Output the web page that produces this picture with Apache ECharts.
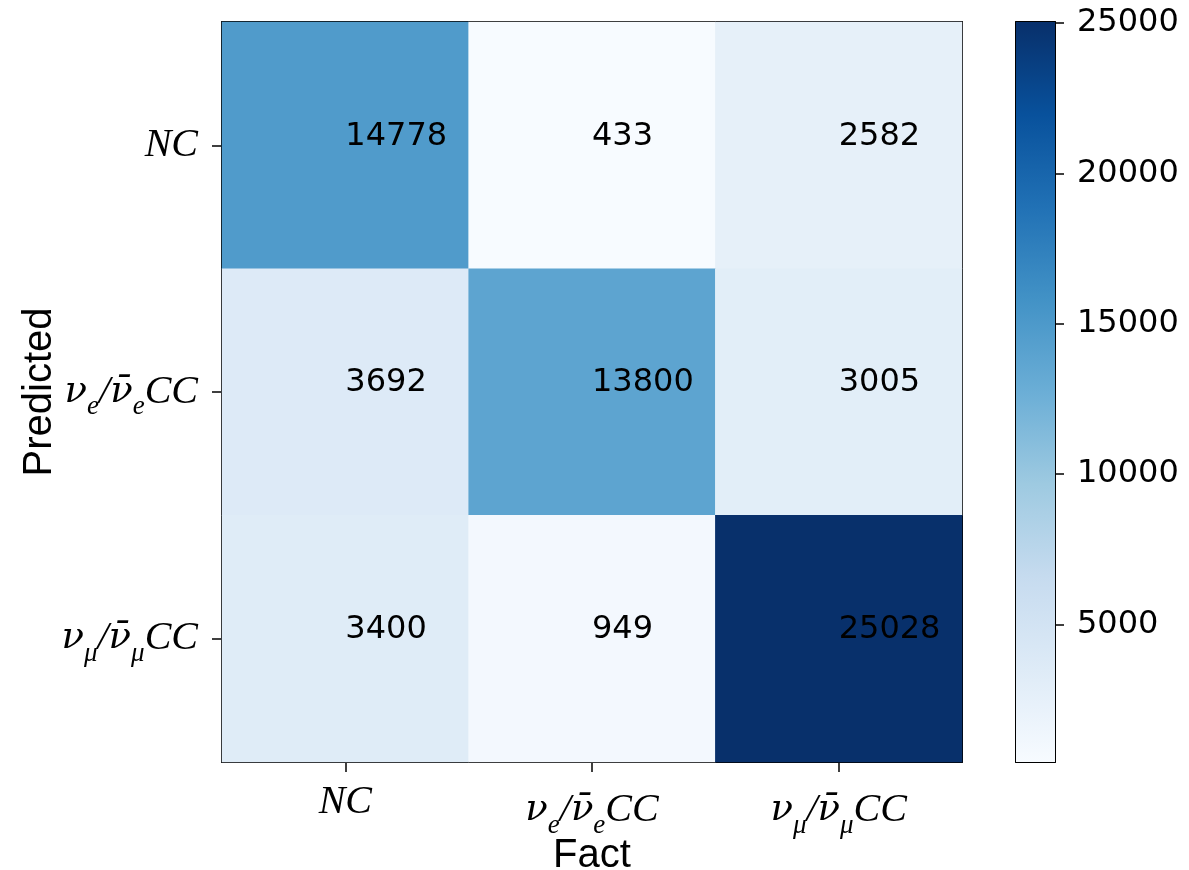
<!DOCTYPE html>
<html>
<head>
<meta charset="utf-8">
<script src="https://cdn.jsdelivr.net/npm/echarts@6/dist/echarts.min.js"></script>
<style>
html,body{margin:0;padding:0;background:#fff;}
#c{width:1189px;height:870px;}
</style>
</head>
<body>
<div id="c"></div>
<script>
// Categories (Fact = columns, Predicted = rows)
const categories = ['NC', 'nue', 'numu'];
const tickLabels = [
  '{i|NC}',
  '{n|ν}{s|e}{i|/}{n|ν̄}{s|e}{i|CC}',
  '{n|ν}{s|μ}{i|/}{n|ν̄}{s|μ}{i|CC}'
];
// Rows: predicted class; values per fact column
const predNC   = [14778, 433, 2582];
const predNue  = [3692, 13800, 3005];
const predNumu = [3400, 949, 25028];
const matrixRows = [predNC, predNue, predNumu];
const colorbarTicks = [5000, 10000, 15000, 20000, 25000];
const blues = ['#f7fbff','#deebf7','#c6dbef','#9ecae1','#6baed6','#4292c6','#2171b5','#08519c','#08306b'];

const allVals = matrixRows.flat();
const vmin = Math.min(...allVals);
const vmax = Math.max(...allVals);

const heatData = [];
matrixRows.forEach((row, r) => row.forEach((v, c) => heatData.push([c, r, v])));

const rich = {
  i: {fontFamily: 'Liberation Serif', fontStyle: 'italic', fontSize: 40, color: '#000'},
  n: {fontFamily: 'DejaVu Serif', fontStyle: 'italic', fontSize: 37, color: '#000'},
  s: {fontFamily: 'Liberation Serif', fontStyle: 'italic', fontSize: 27, color: '#000', padding: [30, 0, 0, 0]}
};
const labelFmt = (v) => tickLabels[categories.indexOf(v)];
const lineStyle = {color: '#000', width: 2};

const chart = echarts.init(document.getElementById('c'), null, {renderer: 'canvas'});
chart.setOption({
  animation: false,
  backgroundColor: '#fff',
  grid: [
    {left: 222, top: 22, width: 740, height: 740, outerBoundsMode: 'none', containLabel: false},
    {left: 1016, top: 22, width: 39, height: 740, outerBoundsMode: 'none', containLabel: false}
  ],
  xAxis: [
    {type: 'category', gridIndex: 0, data: categories, position: 'bottom',
     axisLine: {show: true, lineStyle}, axisTick: {show: true, alignWithLabel: true, length: 10, lineStyle: {color: '#000', width: 1.5}},
     axisLabel: {formatter: labelFmt, rich, margin: 20},
     splitLine: {show: false},
     name: 'Fact', nameLocation: 'middle', nameGap: 74, nameMoveOverlap: false,
     nameTextStyle: {fontFamily: 'Liberation Sans', fontSize: 40, color: '#000'}},
    {type: 'category', gridIndex: 0, data: categories, position: 'top',
     axisLine: {show: true, lineStyle}, axisTick: {show: false}, axisLabel: {show: false}},
    {type: 'value', gridIndex: 1, min: 0, max: 1, position: 'bottom',
     axisLine: {show: true, onZero: false, lineStyle}, axisTick: {show: false}, axisLabel: {show: false}, splitLine: {show: false}},
    {type: 'value', gridIndex: 1, min: 0, max: 1, position: 'top',
     axisLine: {show: true, onZero: false, lineStyle}, axisTick: {show: false}, axisLabel: {show: false}, splitLine: {show: false}}
  ],
  yAxis: [
    {type: 'category', gridIndex: 0, data: categories, inverse: true, position: 'left',
     axisLine: {show: true, lineStyle}, axisTick: {show: true, alignWithLabel: true, length: 10, lineStyle: {color: '#000', width: 1.5}},
     axisLabel: {formatter: labelFmt, rich, margin: 24},
     splitLine: {show: false},
     name: 'Predicted', nameLocation: 'middle', nameGap: 162, nameRotate: 90, nameMoveOverlap: false,
     nameTextStyle: {fontFamily: 'Liberation Sans', fontSize: 40, color: '#000'}},
    {type: 'category', gridIndex: 0, data: categories, inverse: true, position: 'right',
     axisLine: {show: true, lineStyle}, axisTick: {show: false}, axisLabel: {show: false}},
    {type: 'value', gridIndex: 1, min: vmin, max: vmax, position: 'right',
     axisLine: {show: true, onZero: false, lineStyle},
     axisTick: {show: true, length: 9, customValues: colorbarTicks, lineStyle: {color: '#000', width: 1.5}},
     axisLabel: {show: true, customValues: colorbarTicks, margin: 22, formatter: (v) => String(v),
                 fontFamily: 'DejaVu Sans', fontSize: 32, color: '#000'},
     splitLine: {show: false}},
    {type: 'value', gridIndex: 1, min: vmin, max: vmax, position: 'left',
     axisLine: {show: true, onZero: false, lineStyle}, axisTick: {show: false}, axisLabel: {show: false}, splitLine: {show: false}}
  ],
  visualMap: {
    type: 'continuous', show: false, seriesIndex: 0, min: vmin, max: vmax,
    inRange: {color: blues}
  },
  series: [
    {
      type: 'heatmap', xAxisIndex: 0, yAxisIndex: 0, data: heatData,
      label: {show: true, align: 'left', verticalAlign: 'middle', offset: [0, -9],
              fontFamily: 'DejaVu Sans', fontSize: 32, color: '#000'},
      emphasis: {disabled: true}
    },
    {
      type: 'custom', xAxisIndex: 2, yAxisIndex: 2, data: [[0, 1, vmin, vmax]], z: 1,
      renderItem: function (params, api) {
        const p0 = api.coord([api.value(0), api.value(3)]);
        const p1 = api.coord([api.value(1), api.value(2)]);
        const stops = blues.slice().reverse().map((c, i, arr) => ({offset: i / (arr.length - 1), color: c}));
        return {
          type: 'rect',
          shape: {x: p0[0], y: p0[1], width: p1[0] - p0[0], height: p1[1] - p0[1]},
          style: {fill: new echarts.graphic.LinearGradient(0, 0, 0, 1, stops)}
        };
      }
    }
  ]
});
</script>
</body>
</html>
